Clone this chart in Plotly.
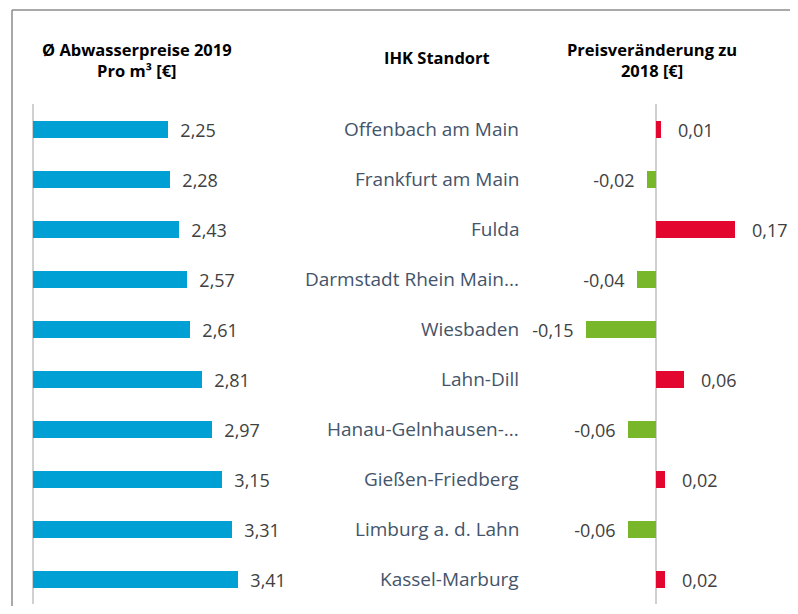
import plotly.graph_objects as go

# data
standorte = ["Offenbach am Main", "Frankfurt am Main", "Fulda", "Darmstadt Rhein Main...",
             "Wiesbaden", "Lahn-Dill", "Hanau-Gelnhausen-...", "Gießen-Friedberg",
             "Limburg a. d. Lahn", "Kassel-Marburg"]
preis_2019 = [2.25, 2.28, 2.43, 2.57, 2.61, 2.81, 2.97, 3.15, 3.31, 3.41]
veraenderung = [0.01, -0.02, 0.17, -0.04, -0.15, 0.06, -0.06, 0.02, -0.06, 0.02]

# page has an 8px body margin, so the figure is a bit smaller and shifted
OFF = 8
W, H = 798 - 2 * OFF, 614 - 2 * OFF
px = lambda x: (x - OFF) / W
py = lambda y: 1 - (y - OFF) / H

BLUE = "#009FD4"
RED = "#E3062F"
GREEN = "#78B72A"
NB = "\u00a0"
col_change = [RED if v > 0 else GREEN for v in veraenderung]
tmpl_change = [NB * 3 + "%{x:.2f}" if v > 0 else "%{x:.2f}" + NB * 2 for v in veraenderung]
label_font = dict(family="Open Sans", size=18, color="#404040")

fig = go.Figure()

fig.add_trace(go.Bar(
    x=preis_2019, y=standorte, orientation="h", xaxis="x", yaxis="y",
    marker=dict(color=BLUE, line=dict(width=0)), width=0.34,
    texttemplate=NB * 2 + "%{x:.2f}", textposition="outside", constraintext="none",
    textfont=label_font, cliponaxis=False, hoverinfo="skip"))

fig.add_trace(go.Bar(
    x=veraenderung, y=standorte, orientation="h", xaxis="x2", yaxis="y",
    marker=dict(color=col_change, line=dict(width=0)), width=0.34,
    texttemplate=tmpl_change, textposition="outside", constraintext="none",
    textfont=label_font, cliponaxis=False, hoverinfo="skip"))

# category names in the middle column
for s in standorte:
    fig.add_annotation(x=px(521), xref="paper", y=s, yref="y", text=s,
                       showarrow=False, xanchor="right",
                       font=dict(family="Open Sans", size=19, color="#44546A"))

headers = [
    (137, 60, "<b>Ø Abwasserpreise 2019<br>Pro m³ [€]</b>"),
    (437, 57, "<b>IHK Standort</b>"),
    (652, 60, "<b>Preisveränderung zu<br>2018 [€]</b>"),
]
for x, y, t in headers:
    fig.add_annotation(x=px(x), y=py(y), xref="paper", yref="paper", text=t,
                       showarrow=False, xanchor="center", yanchor="middle",
                       font=dict(family="Open Sans", size=16.5, color="#000000"))

# frame: only left and top edges are visible
frame = dict(color="#8C8C8C", width=1.5)
fig.add_shape(type="line", xref="paper", yref="paper",
              x0=px(12), x1=1, y0=py(10), y1=py(10), line=frame)
fig.add_shape(type="line", xref="paper", yref="paper",
              x0=px(12), x1=px(12), y0=py(10), y1=0, line=frame)

fig.update_layout(
    width=W, height=H, margin=dict(l=0, r=0, t=0, b=0),
    paper_bgcolor="white", plot_bgcolor="rgba(0,0,0,0)",
    separators=",.", showlegend=False, bargap=0,
    xaxis=dict(domain=[px(33), px(300)], range=[0, 267 / 60.1],
               showgrid=False, showticklabels=False, zeroline=True,
               zerolinecolor="#D0D0D0", zerolinewidth=2),
    xaxis2=dict(domain=[px(560), px(780)], range=[-96 / 465, 124 / 465],
                showgrid=False, showticklabels=False, zeroline=True,
                zerolinecolor="#D0D0D0", zerolinewidth=2, anchor="y"),
    yaxis=dict(domain=[py(604), py(104)], range=[9.5, -0.5],
               showticklabels=False, showgrid=False, zeroline=False),
)

fig.write_html("out.html")
